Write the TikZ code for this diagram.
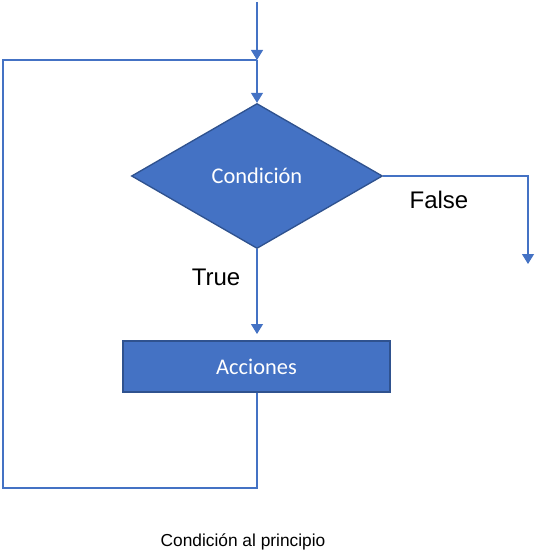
\documentclass[tikz,border=0pt]{standalone}
\usepackage{fontspec}
\setmainfont{Liberation Sans}
\newfontfamily\calibri{Carlito}
\usetikzlibrary{shapes.geometric,arrows.meta}
\definecolor{blueA}{HTML}{4472C4}
\definecolor{blueB}{HTML}{2F528F}
\tikzset{
  flow/.style={draw=blueA, line width=0.9pt},
  arr/.style={flow, -{Triangle[width=9pt,length=7.5pt]}},
  shapebox/.style={fill=blueA, draw=blueB, line width=1pt, text=white, font=\calibri\fontsize{16.8}{20}\selectfont, inner sep=0pt},
  lbl/.style={font=\fontsize{18}{21}\selectfont, text=black},
}
\begin{document}
\begin{tikzpicture}[x=0.75pt,y=-0.75pt]
\useasboundingbox (0,0) rectangle (541,560);
\node[shapebox, diamond, aspect=1.73, minimum width=188.25pt, minimum height=108.75pt] (cond) at (257,176) {Condición};
\node[shapebox, rectangle, minimum width=200.25pt, minimum height=38.25pt] (acc) at (256.5,366.5) {Acciones};
\coordinate (start) at (257,2);
\coordinate (join) at (257,60);
\coordinate (falsecorner) at (528,176);
\coordinate (falseend) at (528,264);
\coordinate (accin) at (257,334);
\coordinate (bot) at (257,488);
\coordinate (botleft) at (3,488);
\coordinate (topleft) at (3,60);
\draw[arr] (start) -- (join);
\draw[arr] (join) -- (cond.north);
\draw[arr] (cond.east) -- (falsecorner) -- (falseend);
\draw[arr] (cond.south) -- (accin);
\draw[flow] (acc.south -| bot) -- (bot) -- (botleft) -- (topleft) -- (join);
\node[lbl] (f) at (439,200) {False};
\node[lbl] (t) at (216,277) {True};
\node[font=\fontsize{13}{15}\selectfont] (cap) at (243,542) {Condición al principio};
\end{tikzpicture}
\end{document}
